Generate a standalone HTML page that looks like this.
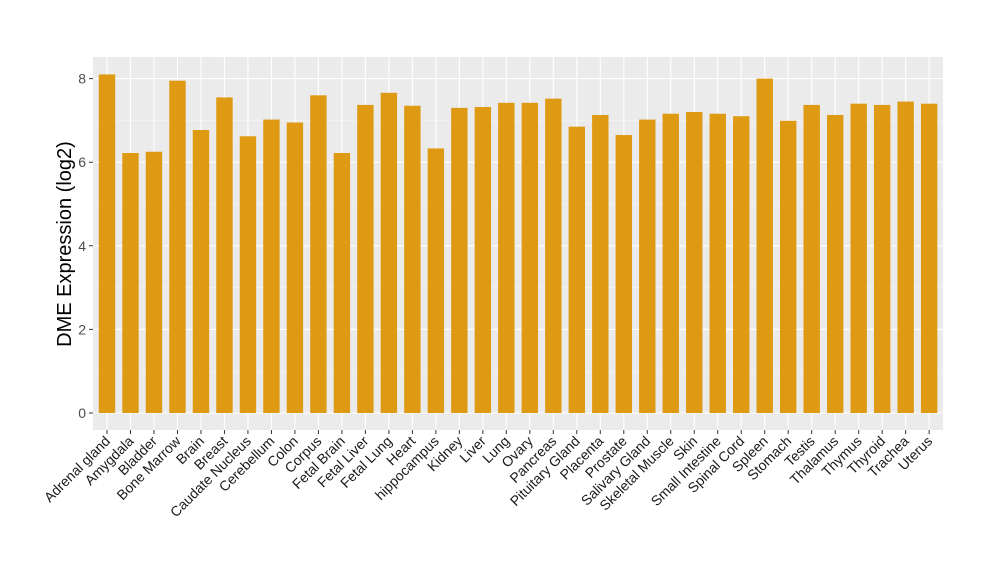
<!DOCTYPE html><html><head><style>body{margin:0;background:#fff}</style></head><body>
<svg width="1000" height="580" xmlns="http://www.w3.org/2000/svg" font-family="Liberation Sans, sans-serif">
<rect width="1000" height="580" fill="#fff"/>
<rect x="93" y="57" width="850" height="373" fill="#ebebeb"/>
<path d="M93 371.2H943M93 287.6H943M93 204H943M93 120.4H943" stroke="#f5f5f5" stroke-width="0.6"/>
<path d="M93 413H943M93 329.4H943M93 245.8H943M93 162.2H943M93 78.6H943" stroke="#fff" stroke-width="1.1"/>
<path d="M107 57V430M130.49 57V430M153.98 57V430M177.47 57V430M200.96 57V430M224.45 57V430M247.94 57V430M271.43 57V430M294.92 57V430M318.41 57V430M341.9 57V430M365.39 57V430M388.88 57V430M412.37 57V430M435.86 57V430M459.35 57V430M482.84 57V430M506.33 57V430M529.82 57V430M553.31 57V430M576.8 57V430M600.29 57V430M623.78 57V430M647.27 57V430M670.76 57V430M694.25 57V430M717.74 57V430M741.23 57V430M764.72 57V430M788.21 57V430M811.7 57V430M835.19 57V430M858.68 57V430M882.17 57V430M905.66 57V430M929.15 57V430" stroke="#fff" stroke-width="1.1"/>
<g fill="#de9a12">
<rect x="98.8" y="74.42" width="16.4" height="338.58"/>
<rect x="122.29" y="153" width="16.4" height="260"/>
<rect x="145.78" y="151.75" width="16.4" height="261.25"/>
<rect x="169.27" y="80.69" width="16.4" height="332.31"/>
<rect x="192.76" y="130.01" width="16.4" height="282.99"/>
<rect x="216.25" y="97.41" width="16.4" height="315.59"/>
<rect x="239.74" y="136.28" width="16.4" height="276.72"/>
<rect x="263.23" y="119.56" width="16.4" height="293.44"/>
<rect x="286.72" y="122.49" width="16.4" height="290.51"/>
<rect x="310.21" y="95.32" width="16.4" height="317.68"/>
<rect x="333.7" y="153" width="16.4" height="260"/>
<rect x="357.19" y="104.93" width="16.4" height="308.07"/>
<rect x="380.68" y="92.81" width="16.4" height="320.19"/>
<rect x="404.17" y="105.77" width="16.4" height="307.23"/>
<rect x="427.66" y="148.41" width="16.4" height="264.59"/>
<rect x="451.15" y="107.86" width="16.4" height="305.14"/>
<rect x="474.64" y="107.02" width="16.4" height="305.98"/>
<rect x="498.13" y="102.84" width="16.4" height="310.16"/>
<rect x="521.62" y="102.84" width="16.4" height="310.16"/>
<rect x="545.11" y="98.66" width="16.4" height="314.34"/>
<rect x="568.6" y="126.67" width="16.4" height="286.33"/>
<rect x="592.09" y="114.97" width="16.4" height="298.03"/>
<rect x="615.58" y="135.03" width="16.4" height="277.97"/>
<rect x="639.07" y="119.56" width="16.4" height="293.44"/>
<rect x="662.56" y="113.71" width="16.4" height="299.29"/>
<rect x="686.05" y="112.04" width="16.4" height="300.96"/>
<rect x="709.54" y="113.71" width="16.4" height="299.29"/>
<rect x="733.03" y="116.22" width="16.4" height="296.78"/>
<rect x="756.52" y="78.6" width="16.4" height="334.4"/>
<rect x="780.01" y="120.82" width="16.4" height="292.18"/>
<rect x="803.5" y="104.93" width="16.4" height="308.07"/>
<rect x="826.99" y="114.97" width="16.4" height="298.03"/>
<rect x="850.48" y="103.68" width="16.4" height="309.32"/>
<rect x="873.97" y="104.93" width="16.4" height="308.07"/>
<rect x="897.46" y="101.59" width="16.4" height="311.41"/>
<rect x="920.95" y="103.68" width="16.4" height="309.32"/>
</g>
<path d="M89 413H93M89 329.4H93M89 245.8H93M89 162.2H93M89 78.6H93" stroke="#333"/>
<path d="M107 430V434M130.49 430V434M153.98 430V434M177.47 430V434M200.96 430V434M224.45 430V434M247.94 430V434M271.43 430V434M294.92 430V434M318.41 430V434M341.9 430V434M365.39 430V434M388.88 430V434M412.37 430V434M435.86 430V434M459.35 430V434M482.84 430V434M506.33 430V434M529.82 430V434M553.31 430V434M576.8 430V434M600.29 430V434M623.78 430V434M647.27 430V434M670.76 430V434M694.25 430V434M717.74 430V434M741.23 430V434M764.72 430V434M788.21 430V434M811.7 430V434M835.19 430V434M858.68 430V434M882.17 430V434M905.66 430V434M929.15 430V434" stroke="#333"/>
<g font-size="14" fill="#4d4d4d" text-anchor="end">
<text x="86" y="418">0</text><text x="86" y="334.4">2</text><text x="86" y="250.8">4</text><text x="86" y="167.2">6</text><text x="86" y="83.6">8</text>
</g>
<g font-size="14" fill="#1a1a1a" text-anchor="end">
<text transform="translate(111,442) rotate(-45)">Adrenal gland</text>
<text transform="translate(134.49,442) rotate(-45)">Amygdala</text>
<text transform="translate(157.98,442) rotate(-45)">Bladder</text>
<text transform="translate(181.47,442) rotate(-45)">Bone Marrow</text>
<text transform="translate(204.96,442) rotate(-45)">Brain</text>
<text transform="translate(228.45,442) rotate(-45)">Breast</text>
<text transform="translate(251.94,442) rotate(-45)">Caudate Nucleus</text>
<text transform="translate(275.43,442) rotate(-45)">Cerebellum</text>
<text transform="translate(298.92,442) rotate(-45)">Colon</text>
<text transform="translate(322.41,442) rotate(-45)">Corpus</text>
<text transform="translate(345.9,442) rotate(-45)">Fetal Brain</text>
<text transform="translate(369.39,442) rotate(-45)">Fetal Liver</text>
<text transform="translate(392.88,442) rotate(-45)">Fetal Lung</text>
<text transform="translate(416.37,442) rotate(-45)">Heart</text>
<text transform="translate(439.86,442) rotate(-45)">hippocampus</text>
<text transform="translate(463.35,442) rotate(-45)">Kidney</text>
<text transform="translate(486.84,442) rotate(-45)">Liver</text>
<text transform="translate(510.33,442) rotate(-45)">Lung</text>
<text transform="translate(533.82,442) rotate(-45)">Ovary</text>
<text transform="translate(557.31,442) rotate(-45)">Pancreas</text>
<text transform="translate(580.8,442) rotate(-45)">Pituitary Gland</text>
<text transform="translate(604.29,442) rotate(-45)">Placenta</text>
<text transform="translate(627.78,442) rotate(-45)">Prostate</text>
<text transform="translate(651.27,442) rotate(-45)">Salivary Gland</text>
<text transform="translate(674.76,442) rotate(-45)">Skeletal Muscle</text>
<text transform="translate(698.25,442) rotate(-45)">Skin</text>
<text transform="translate(721.74,442) rotate(-45)">Small Intestine</text>
<text transform="translate(745.23,442) rotate(-45)">Spinal Cord</text>
<text transform="translate(768.72,442) rotate(-45)">Spleen</text>
<text transform="translate(792.21,442) rotate(-45)">Stomach</text>
<text transform="translate(815.7,442) rotate(-45)">Testis</text>
<text transform="translate(839.19,442) rotate(-45)">Thalamus</text>
<text transform="translate(862.68,442) rotate(-45)">Thymus</text>
<text transform="translate(886.17,442) rotate(-45)">Thyroid</text>
<text transform="translate(909.66,442) rotate(-45)">Trachea</text>
<text transform="translate(933.15,442) rotate(-45)">Uterus</text>
</g>
<text transform="translate(71,244) rotate(-90)" font-size="20" fill="#000" text-anchor="middle">DME Expression (log2)</text>
</svg></body></html>
